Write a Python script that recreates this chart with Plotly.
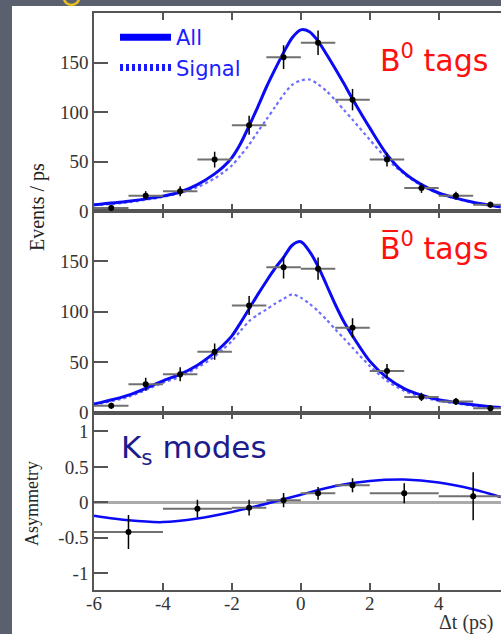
import plotly.graph_objects as go

# ---------------- data ----------------
# bin centres (ps) and per-bin half widths for the Events/ps panels
bin_t = [-5.5, -4.5, -3.5, -2.5, -1.5, -0.5, 0.5, 1.5, 2.5, 3.5, 4.5, 5.5]
bin_half = [0.5] * 12

b0_counts = [3.0, 15.5, 19.9, 51.9, 86.6, 155.4, 169.9, 112.5, 51.9, 23.3, 15.5, 6.4]
b0_err = [3, 4.5, 5, 8, 9.6, 12, 12.3, 10.8, 7, 5, 4, 3]

b0bar_counts = [6.6, 28.1, 38.0, 60.4, 106.2, 144.1, 142.8, 84.0, 41.2, 15.5, 10.9, 4.3]
b0bar_err = [3, 6.5, 7, 8, 9.5, 11, 11, 9.6, 7, 4, 3.5, 3]

# fit curves sampled along delta-t
curve_t = [-6, -5, -4, -3.5, -3, -2.5, -2.25, -2, -1.75, -1.5, -1.25, -1, -0.75, -0.5, -0.25,
           0, 0.25, 0.5, 0.75, 1, 1.25, 1.5, 2, 2.5, 3, 3.5, 4, 4.5, 5, 5.5, 5.8]
b0_all = [6.4, 9.9, 15, 19.2, 26.6, 37.5, 44.5, 54, 68, 86, 105, 125, 143, 160, 175,
          183, 181, 171.6, 158, 143.6, 128.7, 113.2, 84, 57, 38.4, 26.6, 18.2, 13, 8.8, 5.8, 4]
b0_sig = [5.8, 8.8, 14.2, 18.2, 24, 33, 39, 46, 56, 67, 80, 92.3, 105, 117.6, 127.5,
          131.8, 132.8, 128, 121, 112, 102, 92.3, 72, 52.6, 37.4, 25.6, 17.5, 12.4, 8.5, 5.5, 3.8]
b0bar_all = [8.3, 17.2, 31.4, 38, 47, 59.4, 67, 76, 89, 103, 117, 130.3, 143, 154, 166,
             169.5, 160, 145, 126.3, 107.2, 90, 76, 51, 34.6, 23.7, 17.2, 12.6, 9.9, 7.6, 5.8, 5]
b0bar_sig = [7.5, 15.5, 29.5, 35.5, 44.5, 55.5, 63, 70.9, 81, 90.7, 97, 102.3, 108, 112.8, 117.3,
             114, 108, 100.6, 92, 82.5, 73.5, 64.3, 46.2, 31.4, 21.5, 15.5, 11.6, 9, 6.6, 5, 4.4]

# asymmetry points (variable bins) and fit
asym_t = [-5, -3, -1.5, -0.5, 0.5, 1.5, 3, 5]
asym_half = [1, 1, 0.5, 0.5, 0.5, 0.5, 1, 1]
asym_val = [-0.42, -0.09, -0.076, 0.03, 0.127, 0.24, 0.127, 0.085]
asym_err = [0.24, 0.125, 0.11, 0.1, 0.09, 0.1, 0.14, 0.34]

asym_fit_t = [-6, -5, -4, -3, -2, -1, 0, 1, 2, 3, 4, 5, 5.8]
asym_fit = [-0.19, -0.255, -0.28, -0.23, -0.137, -0.02, 0.107, 0.23, 0.30, 0.32, 0.28, 0.185, 0.075]

x_ticks = [-6, -4, -2, 0, 2, 4]
x_ticktext = ["-6", "-4", "-2", "0", "2", "4"]
evt_ticks = [0, 50, 100, 150]
asym_ticks = [-1, -0.5, 0, 0.5, 1]
asym_ticktext = ["-1", "-0.5", "0", "0.5", "1"]

# ---------------- style ----------------
BLUE = "#0a0af5"
SIG = "rgba(60,60,255,0.75)"
AXC = "#555555"
SERIF = "Liberation Serif, Times New Roman, DejaVu Serif, serif"
TICKFONT = dict(family=SERIF, size=19, color="#333333")

# page geometry (pixels)
FIG_W, FIG_H = 501, 634
L, T, R, B = 94, 13, 0, 44
W, H = FIG_W - L - R, FIG_H - T - B


def fx(px):
    return (px - L) / W


def fy(py):
    return (T + H - py) / H


fig = go.Figure()


def data_points(t, v, e, half, xa, ya):
    return go.Scatter(
        x=t, y=v, mode="markers", xaxis=xa, yaxis=ya, showlegend=False,
        marker=dict(color="black", size=6),
        error_x=dict(type="data", array=half, color="#707070", thickness=2, width=0),
        error_y=dict(type="data", array=e, color="black", thickness=1.5, width=0),
    )


def curve(t, v, xa, ya, color, width, dash="solid"):
    return go.Scatter(
        x=t, y=v, mode="lines", xaxis=xa, yaxis=ya, showlegend=False,
        line=dict(color=color, width=width, dash=dash, shape="spline", smoothing=0.8),
    )


# panel 1: B0 tags
fig.add_trace(curve(curve_t, b0_sig, "x3", "y", SIG, 2.2, "dot"))
fig.add_trace(curve(curve_t, b0_all, "x3", "y", BLUE, 3))
fig.add_trace(data_points(bin_t, b0_counts, b0_err, bin_half, "x3", "y"))

# panel 2: B0bar tags
fig.add_trace(curve(curve_t, b0bar_sig, "x2", "y2", SIG, 2.2, "dot"))
fig.add_trace(curve(curve_t, b0bar_all, "x2", "y2", BLUE, 3))
fig.add_trace(data_points(bin_t, b0bar_counts, b0bar_err, bin_half, "x2", "y2"))

# panel 3: asymmetry
fig.add_trace(curve(asym_fit_t, asym_fit, "x", "y3", BLUE, 2.5))
fig.add_trace(data_points(asym_t, asym_val, asym_err, asym_half, "x", "y3"))

# legend entries
fig.add_trace(go.Scatter(x=[None], y=[None], mode="lines", name="All",
                         xaxis="x3", yaxis="y", line=dict(color="#0000ff", width=7)))
fig.add_trace(go.Scatter(x=[None], y=[None], mode="lines", name="Signal",
                         xaxis="x3", yaxis="y",
                         line=dict(color="#1a1aff", width=7, dash="3px,3px")))

x_rng = [-6, -6 + W / 34.47]
d3 = (T + H - 412.5) / H
d12 = (T + H - 211) / H

xcommon = dict(range=x_rng, tickvals=x_ticks, ticktext=x_ticktext, ticks="inside",
               ticklen=7, tickwidth=1.5, tickcolor=AXC, showline=True, linecolor=AXC,
               linewidth=1.5, mirror="ticks", showgrid=False, zeroline=False)
ycommon = dict(ticks="inside", ticklen=14, tickwidth=1.5, tickcolor=AXC, showline=True,
               linecolor=AXC, linewidth=1.5, mirror=False, showgrid=False)
yright = dict(side="right", ticks="inside", ticklen=8, tickwidth=1.5, tickcolor=AXC,
              showline=False, showgrid=False, zeroline=False, showticklabels=False)

asym_rng = [-1.239, 1.268]

fig.update_layout(
    width=FIG_W, height=FIG_H,
    margin=dict(l=L, r=R, t=T, b=B, pad=0),
    paper_bgcolor="#5b606e",
    plot_bgcolor="white",
    xaxis=dict(anchor="y3", showticklabels=True, ticklabelstandoff=-5,
               tickfont=dict(TICKFONT), **xcommon),
    xaxis2=dict(anchor="y2", matches="x", showticklabels=False, **xcommon),
    xaxis3=dict(anchor="y", matches="x", showticklabels=False, **xcommon),
    yaxis=dict(domain=[d12, 1], range=[0, 200], tickvals=evt_ticks, zeroline=False,
               anchor="x3", tickfont=dict(TICKFONT), **ycommon),
    yaxis2=dict(domain=[d3, d12], range=[0, 200], tickvals=evt_ticks, zeroline=False,
                anchor="x2", tickfont=dict(TICKFONT), **ycommon),
    yaxis3=dict(domain=[0, d3], range=asym_rng, tickvals=asym_ticks,
                ticktext=asym_ticktext, zeroline=True, zerolinecolor="#aaaaaa",
                zerolinewidth=2.5, anchor="x", tickfont=dict(TICKFONT), **ycommon),
    yaxis4=dict(overlaying="y", anchor="x3", range=[0, 200], tickvals=evt_ticks, **yright),
    yaxis5=dict(overlaying="y2", anchor="x2", range=[0, 200], tickvals=evt_ticks, **yright),
    yaxis6=dict(overlaying="y3", anchor="x", range=asym_rng, tickvals=asym_ticks, **yright),
    showlegend=True,
    legend=dict(x=fx(115), y=fy(17), xanchor="left", yanchor="top",
                bgcolor="rgba(0,0,0,0)", borderwidth=0, itemwidth=51,
                tracegroupgap=0,
                font=dict(family="DejaVu Sans", size=21, color="#2020ff")),
)

# white slide card behind the plot
fig.add_shape(type="rect", xref="paper", yref="paper", layer="below",
              x0=fx(12), x1=1.0, y0=fy(FIG_H + 2), y1=fy(6),
              fillcolor="white", line=dict(width=0))
# fragment of the slide title glyph above the card
fig.add_shape(type="circle", xref="paper", yref="paper",
              x0=fx(64), x1=fx(79), y0=fy(5), y1=fy(-9),
              line=dict(color="#e8c020", width=2.5), fillcolor="rgba(0,0,0,0)")

ann = [
    dict(text="B<sup>0</sup> tags", x=fx(434), y=fy(59), font=dict(size=30, color="#ff1010")),
    dict(text="B\u0305<sup>0</sup> tags", x=fx(434), y=fy(246), font=dict(size=30, color="#ff1010")),
    dict(text="K<sub>s</sub> modes", x=fx(119), y=fy(449), xanchor="left",
         font=dict(size=31, color="#1c1c8c")),
    dict(text="Events / ps", x=fx(37), y=fy(207), textangle=-90,
         font=dict(family=SERIF, size=20, color="#222222")),
    dict(text="Asymmetry", x=fx(32), y=fy(503), textangle=-90,
         font=dict(family=SERIF, size=18, color="#222222")),
    dict(text="\u0394t (ps)", x=fx(466), y=fy(622),
         font=dict(family=SERIF, size=20, color="#333333")),
]
for a in ann:
    base = dict(xref="paper", yref="paper", showarrow=False, xanchor="center",
                yanchor="middle")
    f = dict(family="DejaVu Sans")
    f.update(a.pop("font"))
    base.update(a)
    base["font"] = f
    fig.add_annotation(**base)

fig.write_html("out.html")
